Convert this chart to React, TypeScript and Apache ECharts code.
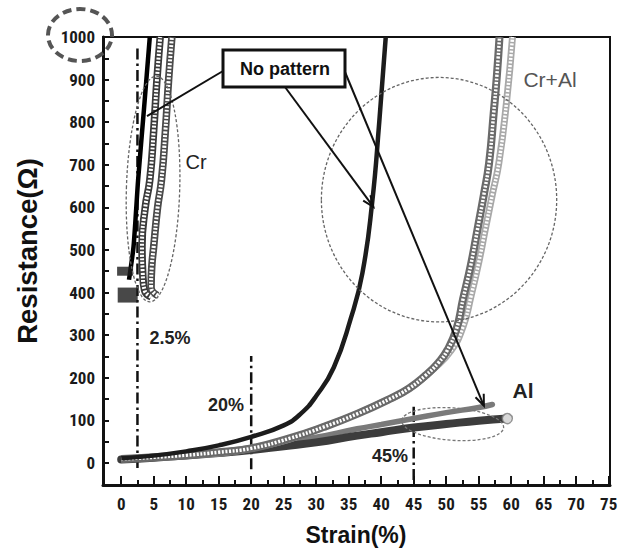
import React, { useEffect, useRef } from "react";
import * as echarts from "echarts";

// ---- axes ----
const xTickLabels = [0, 5, 10, 15, 20, 25, 30, 35, 40, 45, 50, 55, 60, 65, 70, 75];
const xMinorTicks = [2.5, 7.5, 12.5, 17.5, 22.5, 27.5, 32.5, 37.5, 42.5, 47.5, 52.5, 57.5, 62.5, 67.5, 72.5];
const yTickValues = [0, 50, 100, 150, 200, 250, 300, 350, 400, 450, 500, 550, 600, 650, 700, 750, 800, 850, 900, 950, 1000];
const yTickLabels = [0, 100, 200, 300, 400, 500, 600, 700, 800, 900, 1000];

// ---- series (strain %, resistance Ω) ----
const crBlack = [[1.2, 430], [1.9, 508], [2.6, 664], [3.5, 830], [4.4, 1000]];
const crBlockLow = [[1.0, 394]];
const crBlockHigh = [[0.6, 450]];
const crSquares1 = [[4.6, 390], [3.6, 405], [3.3, 450], [3.2, 508], [3.7, 600], [4.4, 664], [5.0, 780], [5.5, 900], [6.0, 1000]];
const crSquares2 = [[5.6, 393], [4.6, 412], [4.7, 460], [5.0, 508], [5.6, 600], [6.2, 664], [6.8, 780], [7.3, 900], [7.8, 1000]];
const noPattern = [[0, 11], [5, 17], [10, 27], [15, 41], [20, 61], [25, 88], [27.6, 115], [30, 157], [32.7, 224], [35.3, 338], [37.1, 445], [38.6, 610], [39.7, 800], [40.7, 1000]];
const crAlTri = [[0, 9], [5, 13], [10, 18], [15, 25], [20, 34], [26, 58], [31.1, 84], [36.3, 115], [41.3, 150], [44.3, 175], [46.8, 205], [48.8, 235], [50.2, 265], [51.6, 315], [52.6, 385], [53.8, 465], [54.8, 547], [55.8, 630], [56.6, 704], [57.3, 820], [57.8, 910], [58.2, 1000]];
const crAlCirc = [[0, 9], [10, 18], [20, 34], [31.1, 84], [41.3, 150], [45, 182], [48, 220], [50.8, 265], [52.6, 320], [53.8, 390], [55.0, 470], [56.0, 547], [57.1, 630], [58.1, 704], [59.3, 850], [60.2, 1000]];
const alGray = [[0, 10], [5, 14], [10, 19], [15, 26], [20, 36], [25, 48], [30, 60], [36.3, 80], [40, 90], [45, 104], [50, 118], [55, 130], [57.1, 137]];
const alDark = [[0, 8], [5, 12], [10, 17], [15, 23], [20, 30], [25, 39], [30, 48], [36.3, 64], [40, 72], [45, 83], [50, 91], [55, 99], [59.4, 104]];
const guide25 = [[2.5, -12], [2.5, 978]];
const guide20 = [[20, -15], [20, 251]];
const guide45 = [[45, -40], [45, 132]];

const FONT_NUM = "'Liberation Sans Narrow', 'Arial Narrow', 'Roboto Condensed', 'Liberation Sans', Arial, sans-serif";
const FONT = "'Liberation Sans', Arial, Helvetica, sans-serif";

function ladder(name: string, data: number[][], outer: string, w: number, z: number, inner = 3.5) {
  return [
    { name, type: "line", data, smooth: 0.5, showSymbol: false, z, lineStyle: { color: outer, width: w } },
    { name: name + "-in", type: "line", data, smooth: 0.5, showSymbol: false, z: z + 0.1, lineStyle: { color: "#ffffff", width: w - inner, type: [2, 1.6] } },
  ];
}

export default function App() {
  const ref = useRef<HTMLDivElement>(null);
  useEffect(() => {
    document.body.style.margin = "0";
    const chart = echarts.init(ref.current!, null, { renderer: "svg" });
    const dashDot = [11, 4, 2.5, 4];
    const numFmt = (v: number) => String(v);
    const option: any = {
      animation: false,
      backgroundColor: "#ffffff",
      grid: { left: 103, right: 19, top: 37, bottom: 64, show: true, borderColor: "#111", borderWidth: 2, outerBoundsMode: "none" },
      xAxis: [
        {
          type: "value", min: -2.8, max: 75.2, position: "bottom",
          axisLine: { onZero: false, lineStyle: { color: "#111", width: 3 } },
          axisTick: { inside: true, length: 5, customValues: xMinorTicks, lineStyle: { color: "#111", width: 2 } },
          axisLabel: { customValues: xTickLabels, formatter: numFmt, color: "#1a1a1a", fontWeight: "bold", fontSize: 17, fontFamily: FONT_NUM, margin: 10 },
          splitLine: { show: false },
        },
        {
          type: "value", min: -2.8, max: 75.2, position: "bottom",
          axisLine: { show: false, onZero: false },
          axisTick: { inside: true, length: 9, customValues: xTickLabels, lineStyle: { color: "#111", width: 2 } },
          axisLabel: { show: false },
          splitLine: { show: false },
        },
      ],
      yAxis: {
        type: "value", min: -52, max: 1000,
        axisLine: { show: true, onZero: false, lineStyle: { color: "#111", width: 3 } },
        axisTick: { show: true, inside: true, length: 6, customValues: yTickValues, lineStyle: { color: "#111", width: 2 } },
        axisLabel: { customValues: yTickLabels, formatter: numFmt, color: "#1a1a1a", fontWeight: "bold", fontSize: 17, fontFamily: FONT_NUM, margin: 8 },
        splitLine: { show: false },
      },
      series: [
        { type: "line", data: guide20, showSymbol: false, z: 1, lineStyle: { color: "#111", width: 2.5, type: dashDot } },
        { type: "line", data: guide45, showSymbol: false, z: 1, lineStyle: { color: "#111", width: 2.5, type: dashDot } },
        { type: "line", data: guide25, showSymbol: false, z: 1, lineStyle: { color: "#111", width: 2.5, type: dashDot } },
        { name: "Al-gray", type: "line", data: alGray, smooth: 0.5, showSymbol: false, z: 2, lineStyle: { color: "#7a7a7a", width: 5.5, cap: "round" } },
        { name: "Al-dark", type: "line", data: alDark, smooth: 0.5, showSymbol: false, z: 2, lineStyle: { color: "#3c3c3c", width: 8, cap: "round" } },
        { name: "Al-end", type: "scatter", data: [alDark[alDark.length - 1]], z: 3, symbol: "circle", symbolSize: 10, itemStyle: { color: "#ffffff", borderColor: "#777", borderWidth: 1.5 } },
        ...ladder("CrAl-circ", crAlCirc, "#a9a9a9", 7, 4),
        ...ladder("CrAl-tri", crAlTri, "#6a6a6a", 8, 5, 4.5),
        { name: "No pattern", type: "line", data: noPattern, smooth: 0.5, showSymbol: false, z: 6, lineStyle: { color: "#1c1c1c", width: 4.5 } },
        ...ladder("Cr-sq1", crSquares1, "#3a3a3a", 7.5, 7),
        ...ladder("Cr-sq2", crSquares2, "#4a4a4a", 7.5, 7),
        { name: "Cr", type: "line", data: crBlack, smooth: 0.2, showSymbol: false, z: 8, lineStyle: { color: "#000", width: 4.5 } },
        { type: "scatter", data: crBlockLow, z: 8, symbol: "rect", symbolSize: [20, 15], itemStyle: { color: "#1a1a1a" } },
        { type: "scatter", data: crBlockHigh, z: 8, symbol: "rect", symbolSize: [16, 9], itemStyle: { color: "#1a1a1a" } },
      ],
    };
    chart.setOption(option);

    const px = (p: number[]) => chart.convertToPixel({ xAxisIndex: 0, yAxisIndex: 0 }, p) as number[];
    const ellipseFromData = (cx: number, cy: number, rx: number, ry: number, rot: number, stroke: string) => {
      const c = px([cx, cy]);
      const e = px([cx + rx, cy + ry]);
      return {
        type: "ellipse", x: c[0], y: c[1], rotation: rot, z: 20, silent: true,
        shape: { cx: 0, cy: 0, rx: Math.abs(e[0] - c[0]), ry: Math.abs(c[1] - e[1]) },
        style: { fill: "none", stroke, lineWidth: 1.3, lineDash: [3, 2] },
      };
    };
    const arrow = (from: number[], to: number[], head: boolean) => {
      const els: any[] = [{ type: "line", z: 22, shape: { x1: from[0], y1: from[1], x2: to[0], y2: to[1] }, style: { stroke: "#111", lineWidth: 2 } }];
      if (head) {
        const a = Math.atan2(to[1] - from[1], to[0] - from[0]);
        const L = 12, s = 0.38;
        els.push({
          type: "polyline", z: 22,
          shape: { points: [[to[0] - L * Math.cos(a - s), to[1] - L * Math.sin(a - s)], [to[0], to[1]], [to[0] - L * Math.cos(a + s), to[1] - L * Math.sin(a + s)]] },
          style: { stroke: "#111", lineWidth: 2, fill: "none" },
        });
      }
      return els;
    };
    const txt = (text: string, x: number, y: number, size: number, weight: string, fill: string, rotation = 0) => ({
      type: "text", x, y, rotation, z: 30, silent: true,
      style: { text, fill, font: `${weight} ${size}px ${FONT}`, align: "center", verticalAlign: "middle", textAlign: "center", textVerticalAlign: "middle" },
    });

    const graphic: any[] = [
      ellipseFromData(4.9, 643, 4.1, 265, -0.03, "#666"),
      ellipseFromData(48.9, 618, 18.1, 287, 0, "#666"),
      ellipseFromData(51.0, 91, 7.85, 38, -0.07, "#777"),
      { type: "ellipse", z: 30, shape: { cx: 80, cy: 35, rx: 32, ry: 26 }, style: { fill: "none", stroke: "#555", lineWidth: 4, lineDash: [9, 5] } },
      ...arrow([223, 71], px([3.97, 814]), false),
      ...arrow([285, 87], px([38.8, 601]), true),
      ...arrow([345, 72], px([55.8, 134]), true),
      { type: "rect", z: 25, shape: { x: 223, y: 50, width: 122, height: 37 }, style: { fill: "#fff", stroke: "#111", lineWidth: 3 } },
      txt("No pattern", 285, 69, 18, "bold", "#111"),
      txt("Cr", 196, 162, 20, "normal", "#222"),
      txt("Cr+Al", 550, 79, 21, "normal", "#555"),
      txt("Al", 523, 390, 21, "bold", "#222"),
      txt("2.5%", 170, 338, 18, "bold", "#222"),
      txt("20%", 226, 405, 18, "bold", "#222"),
      txt("45%", 390, 456, 18, "bold", "#222"),
      txt("Strain(%)", 356, 535, 23, "bold", "#111"),
      txt("Resistance(Ω)", 27, 251, 27.5, "bold", "#111", Math.PI / 2),
    ];
    chart.setOption({ graphic });
    return () => chart.dispose();
  }, []);
  return <div ref={ref} style={{ width: 629, height: 549 }} />;
}
